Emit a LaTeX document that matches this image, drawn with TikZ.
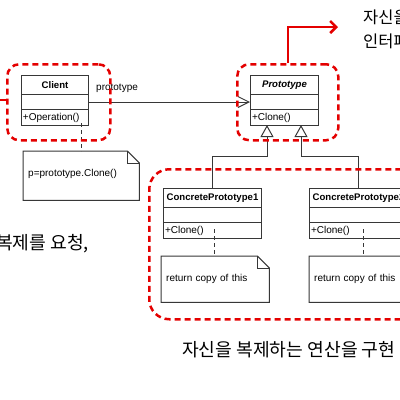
\documentclass[tikz,border=0pt]{standalone}
\usepackage{fontspec}
\setmainfont{Liberation Sans}
\newfontfamily\kr{Noto Sans CJK KR}
\usetikzlibrary{arrows.meta,calc}
\definecolor{redline}{RGB}{228,0,0}
\definecolor{umlline}{RGB}{55,55,55}
\tikzset{
  comp/.style={draw=umlline, line width=1pt, fill=white, inner xsep=1.5pt, inner ysep=0pt,
    font=\fontsize{10}{12}\selectfont, anchor=north west},
  hdr/.style={comp, font=\fontsize{9.6}{12}\selectfont\bfseries, align=center},
  opsbox/.style={comp, align=left},
  notebox/.style={inner xsep=5pt, inner ysep=0pt, anchor=north west, align=left,
    font=\fontsize{10}{12}\selectfont},
  noteline/.style={draw=umlline, line width=1pt, fill=white},
  notelink/.style={draw=umlline, line width=1pt, dash pattern=on 4pt off 3pt},
  assoc/.style={draw=umlline, line width=1pt, -{Straight Barb[length=11pt,width=11pt]}},
  gen/.style={draw=umlline, line width=1pt, -{Triangle[open,length=12pt,width=13pt,fill=white]}},
  redbox/.style={draw=redline, line width=2.5pt, dash pattern=on 6pt off 4pt, anchor=north west,
    inner sep=0pt},
  redsolid/.style={draw=redline, line width=2.5pt},
  kortext/.style={font=\kr\fontsize{18.2}{21}\selectfont, inner sep=0pt, anchor=west},
  lbl/.style={font=\fontsize{10}{12}\selectfont, inner sep=0pt}
}
\begin{document}
\begin{tikzpicture}[x=1pt,y=-1pt]
\useasboundingbox (0,0) rectangle (400,400);
\clip (0,0) rectangle (400,400);

% Client class
\node[hdr, minimum width=67pt, minimum height=19pt] (clientH) at (21,75) {Client};
\node[comp, minimum width=67pt, minimum height=15pt] (clientA) at (21,94) {};
\node[opsbox, minimum width=67pt, minimum height=16pt, text width=64pt] (clientO) at (21,109) {+Operation()};

% Prototype class
\node[hdr, minimum width=68pt, minimum height=19pt] (protoH) at (250,75) {\itshape Prototype};
\node[comp, minimum width=68pt, minimum height=15pt] (protoA) at (250,94) {};
\node[opsbox, minimum width=68pt, minimum height=16pt, text width=65pt] (protoO) at (250,109) {+Clone()};

% ConcretePrototype1
\node[hdr, minimum width=98pt, minimum height=19pt] (cp1H) at (163,188) {ConcretePrototype1};
\node[comp, minimum width=98pt, minimum height=15pt] (cp1A) at (163,207) {};
\node[opsbox, minimum width=98pt, minimum height=16pt, text width=95pt] (cp1O) at (163,222) {+Clone()};

% ConcretePrototype2
\node[hdr, minimum width=98pt, minimum height=19pt] (cp2H) at (309,188) {ConcretePrototype2};
\node[comp, minimum width=98pt, minimum height=15pt] (cp2A) at (309,207) {};
\node[opsbox, minimum width=98pt, minimum height=16pt, text width=95pt] (cp2O) at (309,222) {+Clone()};

% association
\draw[assoc] (clientA.east) -- (protoA.west);
\node[lbl, anchor=west] (assocLbl) at (96,88) {prototype};

% generalization
\coordinate (g1) at (267,125);
\coordinate (g2) at (301,125);
\draw[gen] (cp1H.north) -- (cp1H.north |- 0,156) -| (g1);
\draw[gen] (cp2H.north) -- (cp2H.north |- 0,156) -| (g2);

% notes
\node[notebox, minimum width=116pt, minimum height=49pt, text width=106pt] (cnote) at (23,151) {};
\node[notebox, minimum width=108pt, minimum height=46pt, text width=98pt] (n1) at (161,256) {};
\node[notebox, minimum width=108pt, minimum height=46pt, text width=98pt] (n2) at (309,256) {};
\foreach \n in {cnote,n1,n2}{
  \draw[noteline] (\n.north west) -- ($(\n.north east)+(-12,0)$) -- ($(\n.north east)+(0,12)$)
     -- (\n.south east) -- (\n.south west) -- cycle;
  \draw[noteline, fill=none] ($(\n.north east)+(-12,0)$) -- ($(\n.north east)+(-12,12)$) -- ($(\n.north east)+(0,12)$);
}
\node[notebox, text width=106pt, anchor=west] (cnoteT) at ($(cnote.west)+(0,-2)$) {p=prototype.Clone()};
\node[notebox, text width=98pt, anchor=west] (n1T) at (n1.west) {return copy of this};
\node[notebox, text width=98pt, anchor=west] (n2T) at (n2.west) {return copy of this};

% note links
\coordinate (l0) at (81,123);
\coordinate (l1) at (214,229);
\coordinate (l2) at (363,229);
\draw[notelink] (l0) -- (cnote.north -| l0);
\draw[notelink] (l1) -- (n1.north -| l1);
\draw[notelink] (l2) -- (n2.north -| l2);

% red highlight boxes
\node[redbox, minimum width=103pt, minimum height=76pt, rounded corners=12pt] (crb) at (6,63) {};
\node[redbox, minimum width=101pt, minimum height=76pt, rounded corners=12pt] (prb) at (236,63) {};
\node[redbox, minimum width=272pt, minimum height=150pt, rounded corners=20pt] (bigrb) at (148,168) {};

\coordinate (lft) at (0,100);
\draw[redsolid] (lft) -- (crb.west |- lft);
\coordinate (arrend) at (338,27);
\draw[redsolid, -{Straight Barb[length=6pt,width=12pt]}] (prb.north) |- (arrend);

% Korean texts
\node[kortext, font=\kr\fontsize{16.5}{19}\selectfont] (tr1) at (363,17) {자신을 복제하는};
\node[kortext, font=\kr\fontsize{16.5}{19}\selectfont] (tr2) at (363,41) {인터페이스 정의};
\node[kortext] (lt) at (-4,244) {복제를 요청,};
\node[kortext] (bt) at (182,350) {자신을 복제하는 연산을 구현};
\end{tikzpicture}
\end{document}
